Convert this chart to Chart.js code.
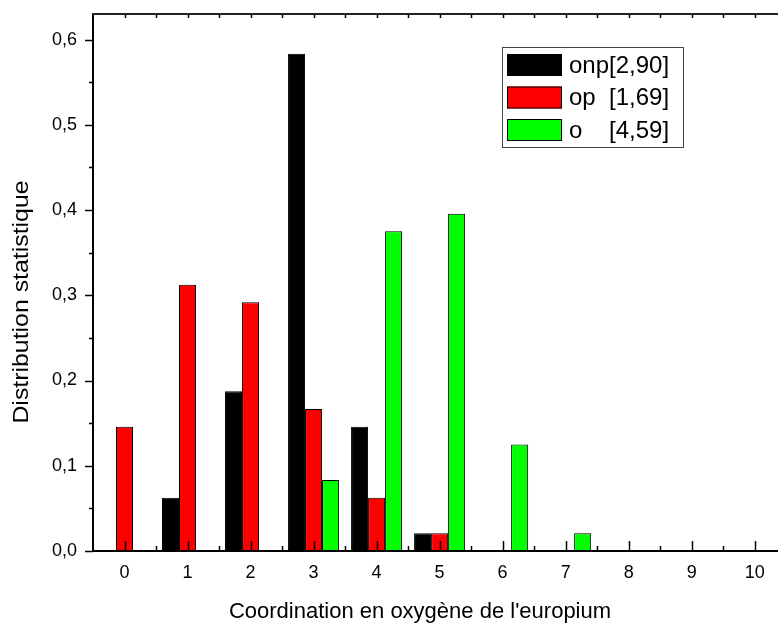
<!DOCTYPE html>
<html>
<head>
<meta charset="utf-8">
<script src="https://cdn.jsdelivr.net/npm/chart.js@4/dist/chart.umd.min.js"></script>
<style>
  html, body { margin: 0; padding: 0; background: #fff; overflow: hidden; }
  canvas { display: block; }
</style>
</head>
<body>
<canvas id="c" width="778" height="626"></canvas>
<script>
// Coordination numbers (x) and statistical distribution for each group
const coordination = [0, 1, 2, 3, 4, 5, 6, 7, 8, 9, 10];
const onp = [0, 0.0625, 0.1875, 0.5833, 0.1458, 0.0208, 0, 0, 0, 0, 0];
const op  = [0.1458, 0.3125, 0.2917, 0.1667, 0.0625, 0.0208, 0, 0, 0, 0, 0];
const o   = [0, 0, 0, 0.0833, 0.375, 0.3958, 0.125, 0.0208, 0, 0, 0];
const seriesLabels = ['onp[2,90]', 'op  [1,69]', 'o    [4,59]'];
const seriesColors = ['#000000', '#ff0000', '#00ff00'];
const yTicks = [0, 0.1, 0.2, 0.3, 0.4, 0.5, 0.6];
const xTitle = "Coordination en oxygène de l'europium";
const yTitle = 'Distribution statistique';

const FONT = "'Liberation Sans', Arial, sans-serif";

const toPoints = arr => arr.map((v, i) => ({ x: coordination[i], y: v }));

// Axes with Origin-style tick marks, drawn over the bars
const framePlugin = {
  id: 'frame',
  afterDatasetsDraw(chart) {
    const { ctx, chartArea: a, scales: { x, y } } = chart;
    ctx.save();
    ctx.strokeStyle = '#000';
    ctx.lineCap = 'butt';

    // y ticks (outside, left)
    ctx.lineWidth = 1.5;
    yTicks.forEach((v, i) => {
      const py = Math.round(y.getPixelForValue(v)) + 0.5;
      ctx.beginPath(); ctx.moveTo(a.left, py); ctx.lineTo(a.left - 8, py); ctx.stroke();
      if (i < yTicks.length - 1) {
        const pm = Math.round(y.getPixelForValue(v + 0.05)) + 0.5;
        ctx.beginPath(); ctx.moveTo(a.left, pm); ctx.lineTo(a.left - 4, pm); ctx.stroke();
      }
    });

    // x ticks (inside, upward) and short ticks hanging from the top frame
    coordination.forEach((v) => {
      const px = Math.round(x.getPixelForValue(v)) + 0.5;
      ctx.beginPath(); ctx.moveTo(px, a.bottom); ctx.lineTo(px, a.bottom - 10); ctx.stroke();
      ctx.beginPath(); ctx.moveTo(px, a.top); ctx.lineTo(px, a.top + 4); ctx.stroke();
      const pm = Math.round(x.getPixelForValue(v + 0.5)) + 0.5;
      if (pm < a.right) {
        ctx.beginPath(); ctx.moveTo(pm, a.bottom); ctx.lineTo(pm, a.bottom - 5); ctx.stroke();
        ctx.beginPath(); ctx.moveTo(pm, a.top); ctx.lineTo(pm, a.top + 4); ctx.stroke();
      }
    });

    // axis lines and top frame
    ctx.lineWidth = 2;
    ctx.beginPath();
    ctx.moveTo(a.left, a.top); ctx.lineTo(a.left, a.bottom + 1);
    ctx.moveTo(a.left - 1, a.bottom); ctx.lineTo(a.right, a.bottom);
    ctx.stroke();
    ctx.strokeStyle = '#222';
    ctx.beginPath();
    ctx.moveTo(a.left - 1, a.top); ctx.lineTo(a.right, a.top);
    ctx.stroke();
    ctx.restore();
  },
  afterDraw(chart) {
    const { ctx } = chart;
    ctx.save();
    ctx.fillStyle = '#000';

    // axis titles
    ctx.textAlign = 'center';
    ctx.textBaseline = 'middle';
    ctx.font = '22px ' + FONT;
    ctx.fillText(xTitle, 420, 612);
    ctx.save();
    ctx.translate(22, 302);
    ctx.rotate(-Math.PI / 2);
    ctx.scale(1.13, 1);
    ctx.fillText(yTitle, 0, 0);
    ctx.restore();

    // legend
    const bx = 502, by = 47, bw = 181, bh = 100;
    ctx.strokeStyle = '#444';
    ctx.lineWidth = 1;
    ctx.strokeRect(bx + 0.5, by + 0.5, bw, bh);
    ctx.font = '24px ' + FONT;
    ctx.textAlign = 'left';
    seriesLabels.forEach((lab, i) => {
      const ry = by + 7 + i * 32.5;
      ctx.fillStyle = seriesColors[i];
      ctx.fillRect(bx + 5, ry, 55, 22);
      ctx.strokeStyle = '#000';
      ctx.strokeRect(bx + 5.5, ry + 0.5, 54, 21);
      ctx.fillStyle = '#000';
      ctx.fillText(lab, bx + 67, ry + 12);
    });
    ctx.restore();
  }
};

const noEdgePadding = s => {
  s.paddingTop = 0; s.paddingBottom = 0; s.paddingLeft = 0; s.paddingRight = 0;
};

new Chart(document.getElementById('c'), {
  type: 'bar',
  data: {
    datasets: [onp, op, o].map((arr, i) => ({
      label: seriesLabels[i],
      data: toPoints(arr),
      backgroundColor: seriesColors[i],
      borderColor: '#000',
      borderWidth: 1,
      borderSkipped: 'start',
      categoryPercentage: 0.81,
      barPercentage: 1.0
    }))
  },
  options: {
    responsive: false,
    animation: false,
    devicePixelRatio: 1,
    layout: { padding: { top: 14, right: 0, bottom: 0, left: 0 } },
    plugins: { legend: { display: false }, tooltip: { enabled: false } },
    scales: {
      x: {
        type: 'linear',
        offset: false,
        min: -0.5,
        max: 10.37,
        grid: { display: false, drawTicks: false, offset: false },
        border: { display: false },
        afterBuildTicks: s => { s.ticks = coordination.map(v => ({ value: v })); },
        afterFit: s => { s.height = 75; noEdgePadding(s); },
        ticks: {
          padding: 11,
          color: '#000',
          font: { family: FONT, size: 18 },
          maxRotation: 0,
          callback: v => String(v)
        }
      },
      y: {
        min: 0,
        max: 0.63,
        grid: { display: false, drawTicks: false },
        border: { display: false },
        afterBuildTicks: s => { s.ticks = yTicks.map(v => ({ value: v })); },
        afterFit: s => { s.width = 93; noEdgePadding(s); },
        ticks: {
          padding: 16,
          color: '#000',
          font: { family: FONT, size: 18 },
          callback: v => v.toFixed(1).replace('.', ',')
        }
      }
    }
  },
  plugins: [framePlugin]
});
</script>
</body>
</html>
